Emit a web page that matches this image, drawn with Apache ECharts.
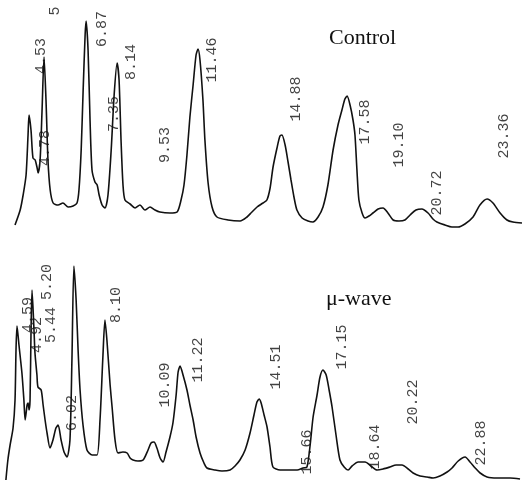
<!DOCTYPE html>
<html>
<head>
<meta charset="utf-8">
<script src="https://cdn.jsdelivr.net/npm/echarts@6/dist/echarts.min.js"></script>
<style>html,body{margin:0;padding:0;background:#fff}#c{width:522px;height:482px}</style>
</head>
<body>
<div id="c"></div>
<script>
// Control chromatogram: retention time (min) and detector response (arb. units)
var ctrlTime = [3.47,3.68,3.80,3.92,4.00,4.04,4.12,4.20,4.29,4.37,4.41,4.49,4.57,4.65,4.73,4.81,4.90,5.02,5.22,5.42,5.63,5.83,5.99,6.07,6.16,6.24,6.32,6.36,6.44,6.52,6.60,6.72,6.81,6.89,7.01,7.13,7.25,7.38,7.50,7.62,7.70,7.78,7.86,7.94,8.15,8.35,8.55,8.75,8.96,9.16,9.36,9.77,10.06,10.22,10.34,10.46,10.58,10.71,10.83,10.91,10.99,11.11,11.19,11.32,11.48,11.68,12.13,12.62,12.90,13.10,13.31,13.55,13.71,13.84,13.96,14.12,14.24,14.32,14.45,14.57,14.69,14.81,14.93,15.14,15.38,15.58,15.79,15.99,16.19,16.40,16.60,16.76,16.88,16.97,17.09,17.21,17.29,17.37,17.45,17.58,17.70,17.86,18.02,18.23,18.43,18.63,18.84,19.08,19.32,19.53,19.77,20.01,20.26,20.46,20.62,20.95,21.23,21.48,21.76,22.09,22.37,22.66,22.90,23.19,23.47,23.71,24.08];
var ctrlResp = [15,30,45,65,105,125,110,82,80,72,67,80,130,183,140,80,50,37,35,37,33,34,37,50,90,150,205,219,190,120,70,58,55,45,35,32,45,90,145,177,160,100,55,40,36,32,35,30,33,30,28,27,28,40,55,85,123,155,185,191,180,140,100,57,33,23,20,19,23,28,33,37,40,52,73,92,104,105,95,78,60,43,30,22,19,18,23,33,55,90,115,130,141,144,135,120,105,70,40,27,22,24,27,31,32,27,20,19,20,25,30,31,27,21,18,15,13,13,16,23,35,41,37,27,20,18,17];
var ctrlLabels = ['4.53','4.78','5','6.87','7.35','8.14','9.53','11.46','14.88','17.58','19.10','20.72','23.36'];
var ctrlLabelTime = [4.53,4.69,5.10,7.01,7.50,8.19,9.57,11.48,14.90,17.70,19.08,20.63,23.35];
var ctrlLabelResp = [184,92,229,211,126,178,95,180,141,118,95,47,104];

// Microwave-treated chromatogram
var mwTime = [3.59,3.67,3.76,3.88,3.96,4.00,4.04,4.12,4.24,4.32,4.37,4.45,4.49,4.53,4.57,4.61,4.65,4.73,4.77,4.85,4.89,5.02,5.10,5.18,5.26,5.38,5.50,5.62,5.71,5.83,5.95,6.07,6.19,6.27,6.35,6.44,6.52,6.60,6.72,6.88,7.09,7.29,7.41,7.53,7.61,7.69,7.82,7.90,8.02,8.14,8.34,8.51,8.63,8.75,8.95,9.16,9.36,9.48,9.60,9.72,9.85,9.97,10.09,10.25,10.37,10.50,10.58,10.66,10.78,10.94,11.06,11.19,11.31,11.47,11.63,11.75,12.08,12.36,12.69,12.89,13.09,13.30,13.50,13.66,13.78,13.87,13.95,14.07,14.19,14.31,14.43,14.72,15.12,15.41,15.65,15.81,15.94,16.06,16.22,16.34,16.46,16.59,16.71,16.83,16.99,17.15,17.32,17.48,17.64,17.89,18.17,18.41,18.66,18.90,19.18,19.43,19.67,19.92,20.12,20.40,20.69,20.93,21.21,21.50,21.70,21.95,22.23,22.43,22.64,22.84,23.12,23.53,24.06,24.46];
var mwResp = [2,22,37,54,82,132,156,137,109,82,62,77,79,72,82,152,192,152,129,107,95,92,77,62,49,34,42,54,57,42,30,25,42,122,216,182,132,92,57,32,27,27,62,127,162,142,97,75,42,29,30,29,24,22,21,22,32,39,40,34,24,20,30,45,59,87,110,116,107,92,77,62,45,29,19,14,12,11,12,16,22,32,49,67,80,83,79,67,55,35,15,12,12,12,14,15,37,65,87,105,112,107,92,75,47,22,15,12,16,20,20,16,12,13,15,17,17,13,9,6,5,4,6,10,14,21,25,20,14,9,5,4,4,3];
var mwLabels = ['4.59','4.92','5.20','5.44','6.02','8.10','10.09','11.22','14.51','15.66','17.15','18.64','20.22','22.88'];
var mwLabelTime = [4.49,4.85,5.26,5.42,6.27,8.06,10.05,11.39,14.56,15.81,17.24,18.58,20.12,22.88];
var mwLabelResp = [167,147,200,157,69,177,97,122,115,30,135,35,80,39];

var panelNames = ['Control', 'μ-wave'];

function zip(a, b) { return a.map(function (v, i) { return [v, b[i]]; }); }
function labelData(names, t, r) {
  return names.map(function (n, i) { return { name: n, value: [t[i], r[i]] }; });
}
var labelStyle = {
  show: true, position: 'inside', rotate: 90, formatter: '{b}',
  fontFamily: 'Liberation Mono', fontSize: 15, color: '#111'
};
var titleStyle = { fontFamily: 'Liberation Serif', fontSize: 22, fontWeight: 'normal', color: '#111' };

var chart = echarts.init(document.getElementById('c'), null, { renderer: 'canvas' });
chart.setOption({
  animation: false,
  backgroundColor: '#fff',
  title: [
    { text: panelNames[0], left: 329, top: 27, padding: 0, textStyle: titleStyle },
    { text: panelNames[1], left: 326, top: 288, padding: 0, textStyle: titleStyle }
  ],
  grid: [
    { left: 0, top: 0, width: 522, height: 240 },
    { left: 0, top: 240, width: 522, height: 242 }
  ],
  xAxis: [
    { type: 'value', gridIndex: 0, min: 2.86, max: 24.08, show: false },
    { type: 'value', gridIndex: 1, min: 3.35, max: 24.54, show: false }
  ],
  yAxis: [
    { type: 'value', gridIndex: 0, min: 0, max: 240, show: false },
    { type: 'value', gridIndex: 1, min: 0, max: 242, show: false }
  ],
  series: [
    { type: 'line', xAxisIndex: 0, yAxisIndex: 0, data: zip(ctrlTime, ctrlResp), showSymbol: false, smooth: 0.25,
      lineStyle: { color: '#111', width: 1.6 } },
    { type: 'line', xAxisIndex: 1, yAxisIndex: 1, data: zip(mwTime, mwResp), showSymbol: false, smooth: 0.25,
      lineStyle: { color: '#111', width: 1.6 } },
    { type: 'scatter', xAxisIndex: 0, yAxisIndex: 0, symbolSize: 0, data: labelData(ctrlLabels, ctrlLabelTime, ctrlLabelResp), label: labelStyle },
    { type: 'scatter', xAxisIndex: 1, yAxisIndex: 1, symbolSize: 0, data: labelData(mwLabels, mwLabelTime, mwLabelResp), label: labelStyle }
  ]
});
</script>
</body>
</html>
